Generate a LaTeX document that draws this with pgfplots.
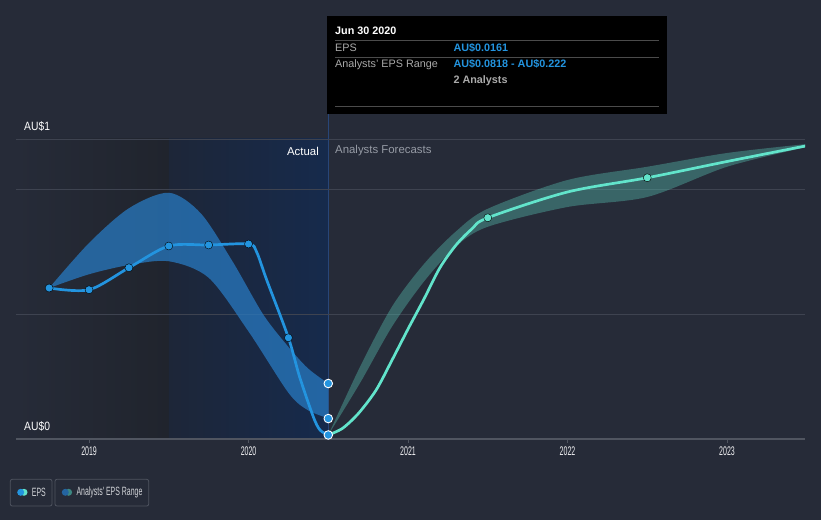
\documentclass[border=0pt]{standalone}
\usepackage{fontspec}
\setmainfont{Liberation Sans}
\newfontfamily\condfont[FakeStretch=0.56]{Liberation Sans}
\newfontfamily\legfont[FakeStretch=0.58]{Liberation Sans}
\newfontfamily\aufont[FakeStretch=0.86]{Liberation Sans}
\usepackage{pgfplots}
\pgfplotsset{compat=1.18}
\usepgfplotslibrary{fillbetween}
\definecolor{bg}{RGB}{38,43,56}
\definecolor{gridc}{RGB}{62,67,80}
\definecolor{axisc}{RGB}{80,85,96}
\definecolor{darkreg}{RGB}{32,36,45}
\definecolor{navyL}{RGB}{29,38,56}
\definecolor{navyR}{RGB}{22,42,76}
\definecolor{vlinec}{RGB}{40,70,120}
\definecolor{blueline}{RGB}{35,148,223}
\definecolor{bandblue}{RGB}{40,122,194}
\definecolor{tealline}{RGB}{98,228,203}
\definecolor{bandteal}{RGB}{88,196,180}
\definecolor{tickc}{RGB}{240,240,242}
\definecolor{fcastc}{RGB}{150,155,165}
\definecolor{legc}{RGB}{210,212,216}
\definecolor{boxc}{RGB}{78,83,95}
\definecolor{ttlab}{RGB}{170,170,170}
\definecolor{sepc}{RGB}{75,75,75}
\definecolor{legblue}{RGB}{36,100,160}
\definecolor{legteal}{RGB}{60,135,130}
\pagecolor{bg}
\begin{document}
\begin{tikzpicture}[x=1pt,y=1pt]
\path (0,0) rectangle (821,520);
\begin{axis}[
  at={(16pt,81pt)}, anchor=south west, scale only axis,
  width=789pt, height=300pt,
  xmin=2018.542, xmax=2023.489, ymin=0, ymax=1.2,
  set layers,
  axis line style={draw=none},
  ytick={0.5,1,1.2}, yticklabels={}, ymajorgrids,
  grid style={gridc, line width=0.9pt},
  major y tick style={draw=none},
  extra y ticks={0}, extra y tick labels={},
  extra y tick style={major grid style={axisc, line width=1.1pt}, major tick length=0pt},
  xtick={2019,2020,2021,2022,2023},
  xticklabels={\mbox{2019},\mbox{2020},\mbox{2021},\mbox{2022},\mbox{2023}},
  xtick pos=left, tick align=outside, major tick length=3.5pt,
  major x tick style={axisc, line width=0.8pt},
  xticklabel style={font=\condfont\fontsize{12.5}{14}\selectfont, text=tickc, yshift=-0.5pt},
  clip marker paths=true,
]
\begin{pgfonlayer}{axis background}
\shade[left color=bg, right color=darkreg] (axis cs:2018.542,0) rectangle (axis cs:2019.5,1.2);
\shade[left color=navyL, right color=navyR] (axis cs:2019.5,0) rectangle (axis cs:2020.5,1.2);
\draw[vlinec, line width=0.8pt] (axis cs:2020.5,0) -- (axis cs:2020.5,1.2);
\end{pgfonlayer}

% analysts' range, past
\addplot[draw=none, smooth, name path=bu, forget plot] coordinates {
(2018.75,0.604) (2019.0,0.784) (2019.25,0.923) (2019.5,0.985) (2019.7,0.903)
(2019.9,0.71) (2020.09,0.5) (2020.24,0.376) (2020.37,0.284) (2020.5,0.222)};
\addplot[draw=none, smooth, name path=bl, forget plot] coordinates {
(2018.75,0.604) (2019.0,0.659) (2019.25,0.696) (2019.5,0.711) (2019.75,0.645)
(2020.0,0.43) (2020.25,0.185) (2020.37,0.116) (2020.5,0.083)};
\addplot[bandblue, fill opacity=0.74, draw=none] fill between[of=bu and bl];

% analysts' range, forecast
\addplot[draw=none, smooth, name path=tu, forget plot] coordinates {
(2020.5,0.016) (2020.7,0.29) (2020.9,0.53) (2021.1,0.70) (2021.3,0.83)
(2021.5,0.921) (2022.0,1.036) (2022.5,1.089) (2023.0,1.144) (2023.5,1.18)};
\addplot[draw=none, smooth, name path=tl, forget plot] coordinates {
(2020.5,0.016) (2020.7,0.225) (2020.9,0.45) (2021.1,0.63) (2021.3,0.77)
(2021.5,0.849) (2022.0,0.928) (2022.5,0.968) (2023.0,1.089) (2023.5,1.168)};
\addplot[bandteal, fill opacity=0.38, draw=none] fill between[of=tu and tl];

% EPS actual
\addplot[blueline, line width=2.7pt, smooth] coordinates {
(2018.75,0.604) (2019.0,0.597) (2019.25,0.685) (2019.5,0.772) (2019.75,0.776)
(2020.0,0.78) (2020.05,0.749) (2020.114,0.636) (2020.25,0.405) (2020.32,0.249)
(2020.406,0.089) (2020.448,0.036) (2020.5,0.0161)};
% EPS forecast
\addplot[tealline, line width=2.7pt, smooth] coordinates {
(2020.5,0.0161) (2020.59,0.043) (2020.69,0.103) (2020.80,0.196) (2020.90,0.316)
(2021.0,0.44) (2021.1,0.56) (2021.2,0.685) (2021.3,0.775) (2021.4,0.84)
(2021.5,0.885) (2022.0,0.988) (2022.5,1.045) (2023.0,1.11) (2023.5,1.173)};

\addplot[only marks, mark=*, mark size=4pt, mark options={draw=none, fill=blueline}] coordinates {
(2018.75,0.604) (2019.0,0.597) (2019.25,0.685) (2019.5,0.772) (2019.75,0.776)
(2020.0,0.78) (2020.25,0.405)};
\addplot[only marks, mark=*, mark size=4pt, mark options={draw=none, fill=tealline}] coordinates {
(2021.5,0.885) (2022.5,1.045) (2023.5,1.173)};
\addplot[only marks, mark=*, mark size=4.3pt, mark options={draw=white, line width=0.9pt, fill=blueline}] coordinates {
(2020.5,0.222) (2020.5,0.0818) (2020.5,0.0161)};
\end{axis}

% vertical marker above the plot
\draw[vlinec, line width=0.8pt] (328.3,381) -- (328.3,406);

% y labels
\node[anchor=west, inner sep=0pt, text=white, font=\aufont\fontsize{12}{13}\selectfont] at (24,393.3) {AU\$1};
\node[anchor=west, inner sep=0pt, text=white, font=\aufont\fontsize{12}{13}\selectfont] at (24,93.3) {AU\$0};

% region labels
\node[anchor=east, inner sep=0pt, text=white, font=\fontsize{11.4}{13}\selectfont] at (319,369) {Actual};
\node[anchor=west, inner sep=0pt, text=fcastc, font=\fontsize{11.4}{13}\selectfont] at (335,369) {Analysts Forecasts};

% tooltip
\fill[black] (327,406) rectangle (667,504);
\node[anchor=west, inner sep=0pt, text=white, font=\bfseries\fontsize{10.8}{12}\selectfont] at (335,489.5) {Jun 30 2020};
\draw[sepc, line width=0.7pt] (335,479.7) -- (659,479.7);
\node[anchor=west, inner sep=0pt, text=ttlab, font=\fontsize{10.8}{12}\selectfont] at (335,472.3) {EPS};
\node[anchor=west, inner sep=0pt, text=blueline, font=\bfseries\fontsize{10.8}{12}\selectfont] at (453.3,472.3) {AU\$0.0161};
\draw[sepc, line width=0.7pt] (335,462.7) -- (659,462.7);
\node[anchor=west, inner sep=0pt, text=ttlab, font=\fontsize{10.8}{12}\selectfont] at (335,455.7) {Analysts' EPS Range};
\node[anchor=west, inner sep=0pt, text=blueline, font=\bfseries\fontsize{10.8}{12}\selectfont] at (453.3,455.7) {AU\$0.0818 - AU\$0.222};
\node[anchor=west, inner sep=0pt, text=ttlab, font=\bfseries\fontsize{10.8}{12}\selectfont] at (453.3,439) {2 Analysts};
\draw[sepc, line width=0.7pt] (335,413.3) -- (659,413.3);

% legend
\draw[boxc, line width=0.8pt, rounded corners=2pt] (10.3,14) rectangle (52,40.7);
\draw[boxc, line width=0.8pt, rounded corners=2pt] (55,14) rectangle (148.7,40.7);
\fill[tealline] (24,27.7) circle (3.5);
\fill[blueline] (20.7,27.7) circle (3.5);
\fill[legteal] (68.6,27.7) circle (3.5);
\fill[legblue] (65.3,27.7) circle (3.5);
\node[anchor=west, inner sep=0pt, text=legc, font=\legfont\fontsize{12}{13}\selectfont] at (31.7,27.7) {EPS};
\node[anchor=west, inner sep=0pt, text=legc, font=\legfont\fontsize{12}{13}\selectfont] at (76.3,27.7) {Analysts' EPS Range};
\end{tikzpicture}
\end{document}
